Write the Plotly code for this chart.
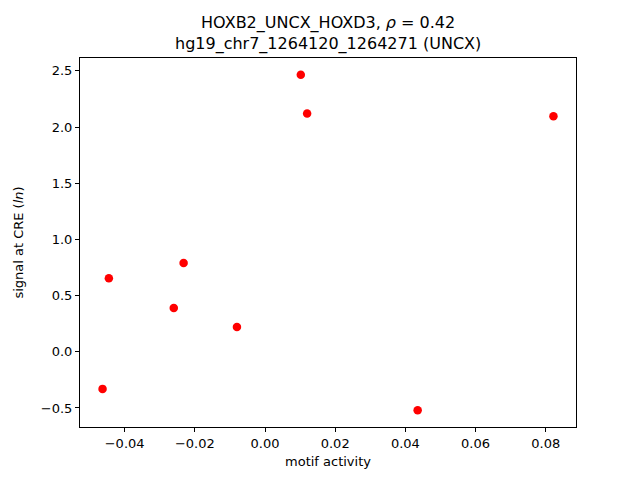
import plotly.graph_objects as go

motif_activity = [-0.0463, -0.0445, -0.0260, -0.0232, -0.0080, 0.0102, 0.0120, 0.0435, 0.0822]
cre_signal = [-0.33, 0.655, 0.39, 0.79, 0.22, 2.465, 2.12, -0.52, 2.095]

title_line1 = "HOXB2_UNCX_HOXD3, <i>ρ</i> = 0.42"
title_line2 = "hg19_chr7_1264120_1264271 (UNCX)"

fig = go.Figure()
fig.add_trace(go.Scatter(
    x=motif_activity, y=cre_signal, mode="markers",
    marker=dict(color="#ff0000", size=8.5, line=dict(width=0)),
    showlegend=False,
))

axis_common = dict(
    showgrid=False, zeroline=False, showline=True, linecolor="black", linewidth=1,
    mirror=True, ticks="outside", ticklen=4, tickcolor="black", tickwidth=1,
    tickfont=dict(size=13, color="black"), automargin=False,
)

xmin, xmax = min(motif_activity), max(motif_activity)
ymin, ymax = min(cre_signal), max(cre_signal)
xm = (xmax - xmin) * 0.05
ym = (ymax - ymin) * 0.05

# page body has an 8px default margin, compensate so the plot area sits where the reference has it
fig.update_layout(
    width=640, height=480,
    margin=dict(l=72, r=72, t=50, b=61, autoexpand=False),
    plot_bgcolor="white", paper_bgcolor="white",
    font=dict(family="DejaVu Sans", color="black"),
    annotations=[dict(text=title_line1 + "<br>" + title_line2, x=0.5, xanchor="center",
                      xref="paper", yref="paper", y=1, yanchor="bottom", yshift=2,
                      showarrow=False, font=dict(size=16, color="black"))],
    xaxis=dict(axis_common, range=[xmin - xm, xmax + xm], dtick=0.02, tick0=0,
               tickformat=".2f",
               title=dict(text="motif activity", font=dict(size=13), standoff=7)),
    yaxis=dict(axis_common, range=[ymin - ym, ymax + ym], dtick=0.5, tick0=0,
               tickformat=".1f",
               title=dict(text="signal at CRE (<i>ln</i>)", font=dict(size=13), standoff=14)),
)

fig.write_html("out.html")
